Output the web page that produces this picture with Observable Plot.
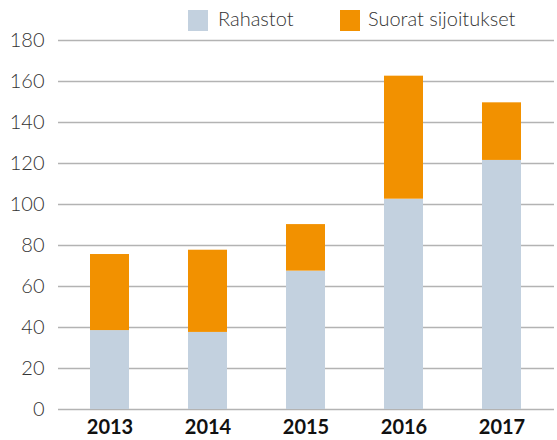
<!DOCTYPE html>
<html><head><meta charset="utf-8">
<script src="https://cdn.jsdelivr.net/npm/d3@7"></script>
<script src="https://cdn.jsdelivr.net/npm/@observablehq/plot@0.6"></script>
<style>
body{margin:0;background:#fff;font-family:Lato,"Open Sans",sans-serif;}
#wrap{position:relative;width:557px;height:440px;}
#legend{position:absolute;left:0;top:0;width:557px;height:20px;font-size:20px;font-weight:300;color:#333;z-index:2;}
.sw{position:absolute;top:10px;width:20px;height:21px;}
.lt{position:absolute;top:6px;line-height:24px;white-space:nowrap;}
#chart{position:absolute;left:0;top:20px;}
</style></head>
<body><div id="wrap">
<div id="legend"></div>
<div id="chart"></div>
</div>
<script>
const years = ["2013","2014","2015","2016","2017"];
const rahastot = [38.5, 37.6, 67.5, 102.6, 121.5];
const suorat = [37.1, 40.1, 22.7, 60.0, 28.1];
const seriesNames = ["Rahastot","Suorat sijoitukset"];
const seriesColors = ["#c3d1df","#f29100"];
const yTicks = [0,20,40,60,80,100,120,140,160,180];

const data = [];
years.forEach((y,i)=>{
  data.push({year:y, series:seriesNames[0], value:rahastot[i]});
  data.push({year:y, series:seriesNames[1], value:suorat[i]});
});

const leg = document.getElementById("legend");
const legPos = [[188,218],[340,368]];
seriesNames.forEach((n,i)=>{
  const s=document.createElement("div");s.className="sw";s.style.left=legPos[i][0]+"px";s.style.background=seriesColors[i];leg.appendChild(s);
  const t=document.createElement("div");t.className="lt";t.style.left=legPos[i][1]+"px";t.textContent=n;leg.appendChild(t);
});

const plot = Plot.plot({
  width:557, height:420,
  marginTop:20, marginBottom:31, marginLeft:58, marginRight:3,
  style:{fontFamily:"Lato, 'Open Sans', sans-serif", background:"transparent", overflow:"visible"},
  x:{domain:years, paddingInner:0.6, paddingOuter:0.31, label:null},
  y:{domain:[0,180], label:null},
  color:{domain:seriesNames, range:seriesColors},
  marks:[
    Plot.ruleY(yTicks,{stroke:"#b3b3b3", strokeWidth:1.5}),
    Plot.barY(data,{x:"year", y:"value", fill:"series", order:seriesNames}),
    Plot.axisY(yTicks,{tickSize:0, tickPadding:14, fontSize:20, fontWeight:300, fill:"#333", label:null}),
    Plot.axisX({tickSize:0, tickPadding:10, fontSize:20, fontWeight:"bold", fill:"#111", label:null})
  ]
});
document.getElementById("chart").appendChild(plot);
</script>
</body></html>
